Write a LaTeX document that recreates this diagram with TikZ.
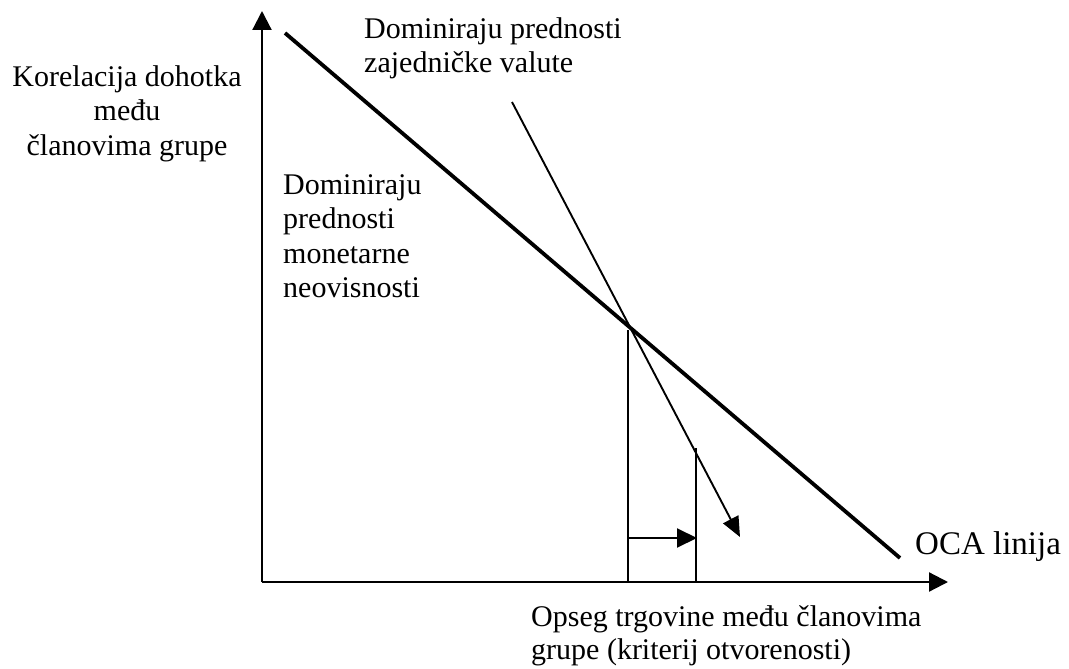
\documentclass[tikz,border=0pt]{standalone}
\usepackage{fontspec}
\setmainfont{Liberation Serif}
\usetikzlibrary{arrows.meta}
\begin{document}
\begin{tikzpicture}[x=1pt,y=-1pt,
  axis/.style={line width=2.2pt,-{Triangle[length=19pt,width=19pt]}},
  ocaline/.style={line width=3.8pt},
  thinarrow/.style={line width=1.9pt,-{Triangle[length=20pt,width=17pt]}},
  guide/.style={line width=2.1pt},
  lbl/.style={inner sep=0pt,font=\fontsize{30}{34.5}\selectfont}
]
\useasboundingbox (0,0) rectangle (1069,669);
% points
\coordinate (O) at (262,582);
\coordinate (Ytop) at (262,11);
\coordinate (Xend) at (948,582);
\coordinate (A) at (285,33);
\coordinate (B) at (900,558);
\coordinate (C) at (512,102);
\coordinate (D) at (740,537);
\coordinate (V1t) at (628,330);
\coordinate (V1b) at (628,582);
\coordinate (V2t) at (696,448);
\coordinate (V2b) at (696,582);
\coordinate (H1) at (628,538);
\coordinate (H2) at (697,538);
% axes
\draw[axis] (O) -- (Ytop);
\draw[axis] (O) -- (Xend);
% OCA line
\draw[ocaline] (A) -- (B);
% thin line
\draw[thinarrow] (C) -- (D);
% guides
\draw[guide] (V1b) -- (V1t);
\draw[guide] (V2b) -- (V2t);
\draw[line width=2pt,-{Triangle[length=20pt,width=19pt]}] (H1) -- (H2);
% labels
\node[lbl,anchor=north,align=center] (ylab) at (127,65) {Korelacija dohotka\\među\\članovima grupe};
\node[lbl,anchor=north west,align=left] (top) at (364,17) {Dominiraju prednosti\\zajedničke valute};
\node[lbl,anchor=north west,align=left] (mon) at (283,174) {Dominiraju\\prednosti\\monetarne\\neovisnosti};
\node[lbl,anchor=base west,font=\fontsize{33}{38}\selectfont] (oca) at (915,554) {OCA linija};
\node[lbl,anchor=north west,align=left,font=\fontsize{30}{33.5}\selectfont] (xlab) at (531,605) {Opseg trgovine među članovima\\grupe (kriterij otvorenosti)};
\end{tikzpicture}
\end{document}
